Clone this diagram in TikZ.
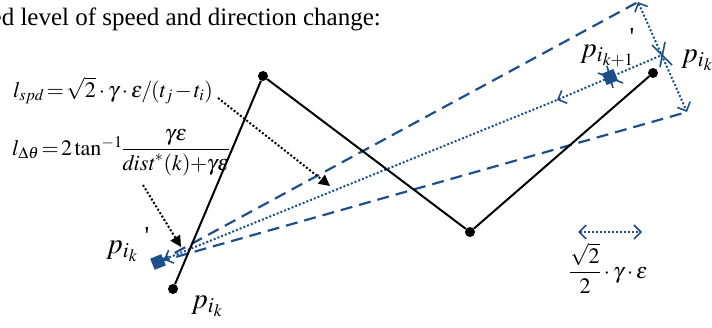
\documentclass[tikz,border=0pt]{standalone}
\usepackage{mathptmx}
\usepackage[no-math]{fontspec}
\setmainfont{Liberation Serif}
\newfontfamily\plainserif{Liberation Serif}
\usetikzlibrary{arrows.meta}
\definecolor{myblue}{RGB}{31,78,140}
\begin{document}
\begin{tikzpicture}[x=1pt,y=-1pt,
  blk/.style={line width=2pt, black},
  vtx/.style={circle, fill=black, inner sep=0pt, minimum size=10pt},
  bsq/.style={rectangle, fill=myblue, inner sep=0pt, minimum size=12pt, rotate=22},
  dashline/.style={myblue, line width=2.2pt, dash pattern=on 12pt off 7pt},
  dotline/.style={myblue, line width=2pt, dash pattern=on 2pt off 2pt},
  blkdot/.style={black, line width=2pt, dash pattern=on 2pt off 2pt, -{Triangle[length=11pt,width=11pt]}},
  otip/.tip={Straight Barb[length=7pt,width=14pt,line width=1.6pt]},
  xmark/.style={myblue, line width=1.6pt},
  lbl/.style={inner sep=0pt, anchor=base west, font=\fontsize{29}{31}\selectfont},
  frm/.style={inner sep=0pt, anchor=base west, font=\fontsize{22}{26}\selectfont},
  prm/.style={inner sep=0pt, font=\plainserif\fontsize{26}{28}\selectfont}
]
\useasboundingbox (0,0) rectangle (712,327);
\clip (0,0) rectangle (712,327);

% header text
\node[inner sep=0pt, anchor=base east, font=\fontsize{25}{30}\selectfont] (hdr) at (381,25) {ed level of speed and direction change:};

% formulas
\node[frm] (f1) at (13,97) {$l_{spd}\mskip-2mu=\mskip-2mu\sqrt{2}\cdot\gamma\cdot\epsilon\mskip-1mu/\mskip-1mu(t_j\mskip-1mu-\mskip-1mu t_i)$};
\node[frm] (f2) at (12,155) {$l_{\Delta\theta}\mskip-2mu=\mskip-2mu2\tan^{-1}\mskip-3mu\displaystyle\frac{\gamma\epsilon}{\mathit{dist}^{*}(k)\mskip-3mu+\mskip-3mu\gamma\epsilon}$};

% key points
\node[vtx] (v1) at (173,289) {};
\node[vtx] (v2) at (263,76) {};
\node[vtx] (v3) at (470,232) {};
\node[vtx] (v4) at (653,73) {};

\node[bsq] (s1) at (158,262) {};
\coordinate (X) at (662,55);
\coordinate (T) at (638,2);
\coordinate (B) at (687,112);
\coordinate (m1) at (557,100);

% corridor
\draw[dashline] (s1.center) -- (T);
\draw[dashline] (s1.center) -- (B);
\draw[dotline, otip-otip] (T) -- (B);
\draw[dotline, otip-] (s1) -- (m1);
\draw[dotline, otip-] (m1) -- (X);

% cross marks
\draw[xmark] (X) ++(-10,-10) -- ++(20,20);
\draw[xmark] (X) ++(3,-13) -- ++(-5,25);

% polyline
\draw[blk] (v1) -- (v2) -- (v3) -- (v4);

% second square with cross
\node[bsq] (s2) at (610,77) {};
\draw[xmark] (s2.center) ++(-12,-4) -- ++(25,10);
\draw[xmark] (s2.center) ++(-3,-11) -- ++(6,22);
\node[bsq] at (s2.center) {};

% black dotted arrows
\coordinate (a1s) at (218,98);
\coordinate (a1e) at (330,186);
\coordinate (a2s) at (143,185);
\coordinate (a2e) at (181,247);
\draw[blkdot] (a1s) -- (a1e);
\draw[blkdot] (a2s) -- (a2e);

% labels
\node[lbl] (l1) at (106,253) {$p_{i_k}$};
\node[prm] (pr1) at (147,236) {'};
\node[lbl] (l2) at (191,308) {$p_{i_k}$};
\node[lbl] (l3) at (580,57) {$p_{i_{k+1}}$};
\node[prm] (pr3) at (632,37) {'};
\node[lbl] (l4) at (681,62) {$p_{i_{k+1}}$};

% scale
\coordinate (d1) at (578,232);
\coordinate (d2) at (642,232);
\draw[dotline, otip-otip] (d1) -- (d2);
\node[frm] (fs) at (569,278) {$\displaystyle\frac{\sqrt{2}}{2}\cdot\gamma\cdot\epsilon$};
\end{tikzpicture}
\end{document}
